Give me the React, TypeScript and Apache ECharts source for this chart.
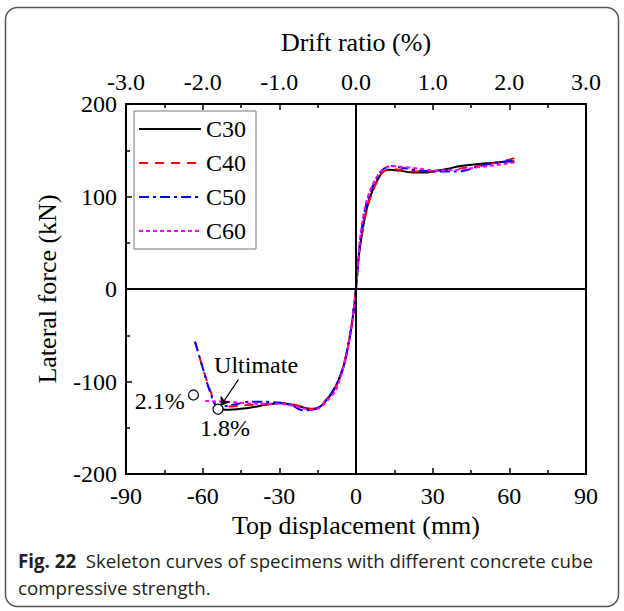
import React, { useEffect, useRef } from "react";
import * as echarts from "echarts";

const seriesNames = ["C30", "C40", "C50", "C60"];

const c30: number[][] = [
  [-54, -130], [-50, -130.5], [-45, -129.5], [-40, -127.5], [-35, -125], [-30, -123.5], [-25, -125],
  [-20, -128.5], [-17, -130], [-14, -127], [-11.5, -120], [-9, -111], [-7, -100], [-5, -85],
  [-3.6, -69], [-2, -45], [-1, -25], [0, 0], [0.8, 28], [1.6, 46], [3.5, 78], [6, 103], [10, 125],
  [13, 129], [17, 128], [22, 126], [27, 126], [32, 128], [36, 130], [41, 133], [51, 136], [56, 137], [62, 138],
];

const c40: number[][] = [
  [-63, -57], [-60, -85], [-57, -110], [-54, -127], [-50, -127], [-45, -126], [-40, -125], [-35, -124],
  [-30, -123], [-25, -124.5], [-20, -128], [-17, -129.5], [-14, -127], [-11.5, -119], [-9, -110],
  [-7, -100], [-5, -84], [-3, -60], [-1.5, -35], [0, 0], [1.5, 45], [3, 70], [5.5, 98], [10, 125],
  [13, 129.5], [17, 129], [22, 127], [30, 127], [40, 130], [50, 134], [56, 137], [62.6, 142],
];

const c50: number[][] = [
  [-63, -57], [-60, -85], [-57, -112], [-54, -128], [-50, -126], [-46, -124], [-42, -122], [-36, -122],
  [-30, -123], [-25, -126], [-21, -131], [-17, -130.5], [-14, -127], [-11, -118], [-8, -105], [-5, -85],
  [-3, -60], [-1.5, -35], [0, 0], [1.5, 50], [3.5, 85], [6, 108], [10, 128], [14, 133], [18, 131],
  [25, 128], [32, 127], [38, 127], [42, 127.5], [46, 131], [50, 134], [56, 137], [62, 139],
];

const c60: number[][] = [
  [-59, -121], [-55, -121.5], [-50, -122], [-45, -123], [-40, -124], [-35, -124], [-30, -124],
  [-25, -126], [-20, -129.5], [-17, -131], [-14, -128], [-11, -120], [-8, -110], [-6, -95], [-4, -75],
  [-2, -45], [0, 0], [1.5, 52], [3.5, 88], [6, 110], [10, 128], [14, 133], [18, 132], [25, 130],
  [32, 128], [40, 129], [46, 131], [52, 133], [58, 135], [62, 137],
];

const ultimatePoint = [-54, -130];
const driftPoint = [-63.6, -114.6];
const ultimateLabelPos = [-39.1, -82];
const arrowStart = [-46, -98];
const arrowEnd = [-53, -126.5];

const xTicks = { min: -90, max: 90, interval: 30 };
const driftTicks = { min: -3, max: 3, interval: 1 };
const yTicks = { min: -200, max: 200, interval: 100 };

const serif = "'Liberation Serif', 'Times New Roman', serif";
const sans = "'Open Sans', 'Noto Sans', sans-serif";

export default function App() {
  const ref = useRef<HTMLDivElement>(null);
  useEffect(() => {
    if (!ref.current) return;
    const chart = echarts.init(ref.current, null, { renderer: "svg" });
    const axisLine = { show: true, lineStyle: { color: "#000", width: 2 } };
    const lineSeries = (name: string, data: number[][], color: string, type: any) => ({
      name,
      type: "line",
      data,
      symbol: "none",
      showSymbol: false,
      smooth: 0.3,
      lineStyle: { color, width: 2, type },
      itemStyle: { color },
      z: 3,
    });
    const option: any = {
      animation: false,
      backgroundColor: "#fff",
      grid: { left: 126, right: 38, top: 104, bottom: 137, containLabel: false },
      legend: {
        data: seriesNames,
        orient: "vertical",
        left: 134,
        top: 111,
        itemWidth: 62,
        itemHeight: 20,
        itemGap: 8,
        padding: [5, 10, 5, 4],
        borderColor: "#777",
        borderWidth: 1,
        itemStyle: { opacity: 0 },
        textStyle: { fontFamily: serif, fontSize: 24, color: "#000", lineHeight: 26 },
      },
      xAxis: [
        {
          type: "value",
          position: "bottom",
          ...xTicks,
          name: "Top displacement (mm)",
          nameLocation: "middle",
          nameGap: 36,
          nameTextStyle: { fontFamily: serif, fontSize: 26, color: "#000" },
          axisLine: { ...axisLine, onZero: false },
          axisTick: { show: true, inside: true, length: 6, lineStyle: { width: 1.5, color: "#000" } },
          minorTick: { show: true, splitNumber: 2, length: 4, lineStyle: { width: 1.5, color: "#000" } },
          axisLabel: { fontFamily: serif, fontSize: 24, color: "#000", margin: 10 },
          splitLine: { show: false },
        },
        {
          type: "value",
          position: "top",
          ...driftTicks,
          name: "Drift ratio (%)",
          nameLocation: "middle",
          nameGap: 49,
          nameTextStyle: { fontFamily: serif, fontSize: 26, color: "#000" },
          axisLine: { ...axisLine, onZero: false },
          axisTick: { show: true, inside: true, length: 6, lineStyle: { width: 1.5, color: "#000" } },
          minorTick: { show: true, splitNumber: 2, length: 4, lineStyle: { width: 1.5, color: "#000" } },
          axisLabel: {
            fontFamily: serif, fontSize: 24, color: "#000", margin: 10,
            formatter: (v: number) => v.toFixed(1),
          },
          splitLine: { show: false },
        },
      ],
      yAxis: [
        {
          type: "value",
          position: "left",
          ...yTicks,
          name: "Lateral force (kN)",
          nameLocation: "middle",
          nameGap: 66,
          nameTextStyle: { fontFamily: serif, fontSize: 26, color: "#000" },
          axisLine: { ...axisLine, onZero: false },
          axisTick: { show: true, inside: true, length: 6, lineStyle: { width: 1.5, color: "#000" } },
          minorTick: { show: true, splitNumber: 2, length: 4, lineStyle: { width: 1.5, color: "#000" } },
          axisLabel: { fontFamily: serif, fontSize: 24, color: "#000", margin: 9 },
          splitLine: { show: false },
        },
        {
          type: "value",
          position: "right",
          ...yTicks,
          axisLine: { ...axisLine, onZero: false },
          axisTick: { show: false },
          axisLabel: { show: false },
          splitLine: { show: false },
        },
      ],
      series: [
        {
          name: "zero",
          type: "line",
          data: [],
          markLine: {
            silent: true,
            symbol: ["none", "none"],
            label: { show: false },
            lineStyle: { color: "#000", width: 2, type: "solid" },
            data: [{ xAxis: 0 }, { yAxis: 0 }],
          },
          z: 2,
        },
        lineSeries("C30", c30, "#000000", "solid"),
        lineSeries("C40", c40, "#ff0000", [9, 7]),
        lineSeries("C50", c50, "#0000ff", [10, 4, 3, 4]),
        lineSeries("C60", c60, "#ff00ff", [4, 3]),
        {
          name: "annot",
          type: "scatter",
          z: 5,
          symbol: "circle",
          symbolSize: 10,
          itemStyle: { color: "#fff", borderColor: "#000", borderWidth: 1.2, opacity: 1 },
          label: { fontFamily: serif, fontSize: 24, color: "#000" },
          data: [
            { value: ultimatePoint, label: { show: true, position: "bottom", formatter: "1.8%", offset: [7, -4] } },
            { value: driftPoint, label: { show: true, position: "left", formatter: "2.1%", offset: [0, 6], distance: 3 } },
            {
              value: ultimateLabelPos,
              symbolSize: 1,
              itemStyle: { color: "rgba(0,0,0,0)", borderWidth: 0, opacity: 1 },
              label: { show: true, position: "inside", formatter: "Ultimate", color: "#000" },
            },
          ],
          markLine: {
            silent: true,
            symbol: ["none", "arrow"],
            symbolSize: 9,
            label: { show: false },
            lineStyle: { color: "#000", width: 1.2, type: "solid" },
            data: [[{ coord: arrowStart }, { coord: arrowEnd }]],
          },
        },
      ],
      graphic: [
        {
          type: "rect",
          shape: { x: 5.5, y: 7.5, width: 613, height: 599, r: 12 },
          style: { fill: "none", stroke: "#555", lineWidth: 1.5 },
          silent: true,
        },
        {
          type: "text",
          left: 18,
          top: 551,
          style: {
            text: "{b|Fig. 22}  Skeleton curves of specimens with different concrete cube",
            fontFamily: sans,
            fontSize: 18.7,
            fill: "#231f20",
            rich: { b: { fontWeight: "bold", fontFamily: sans, fontSize: 18.7, fill: "#231f20" } },
          },
        },
        {
          type: "text",
          left: 18,
          top: 578,
          style: {
            text: "compressive strength.",
            fontFamily: sans,
            fontSize: 18.7,
            fill: "#231f20",
          },
        },
      ],
    };
    chart.setOption(option);
    return () => chart.dispose();
  }, []);
  return (
    <div
      ref={ref}
      style={{ position: "absolute", left: 0, top: 0, width: 624, height: 611, background: "#fff" }}
    />
  );
}
